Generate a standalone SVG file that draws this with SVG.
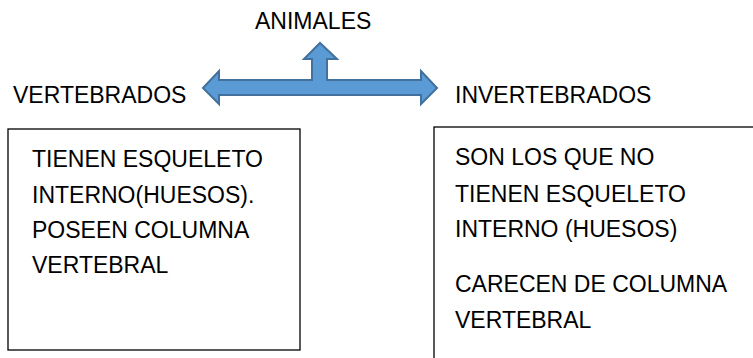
<svg xmlns="http://www.w3.org/2000/svg" width="753" height="358" viewBox="0 0 753 358">
<style>
text{font-family:"Liberation Sans",Arial,sans-serif;font-size:23px;fill:#000}
.box{fill:#fff;stroke:#000;stroke-width:1.3}
.arrow{fill:#5B9BD5;stroke:#41719C;stroke-width:2;stroke-linejoin:miter}
</style>
<rect width="753" height="358" fill="#fff"/>
<g id="animales"><text x="255" y="29">ANIMALES</text></g>
<g id="connectors">
<path class="arrow" d="M203,88 L219,71 L219,80 L312,80 L312,59 L304,59 L320,43 L337,59 L327,59 L327,80 L421,80 L421,71 L437,88 L421,104 L421,95 L219,95 L219,104 Z"/>
</g>
<g id="vertebrados"><text x="13" y="103">VERTEBRADOS</text></g>
<g id="invertebrados"><text x="455" y="103">INVERTEBRADOS</text></g>
<g id="box-vertebrados">
<rect class="box" x="8" y="129" width="292" height="221"/>
<text x="32" y="167">TIENEN ESQUELETO</text>
<text x="32" y="203">INTERNO(HUESOS).</text>
<text x="32" y="238">POSEEN COLUMNA</text>
<text x="32" y="273">VERTEBRAL</text>
</g>
<g id="box-invertebrados">
<rect class="box" x="434" y="127" width="330" height="240"/>
<text x="455" y="165">SON LOS QUE NO</text>
<text x="455" y="202">TIENEN ESQUELETO</text>
<text x="455" y="237">INTERNO (HUESOS)</text>
<text x="455" y="292">CARECEN DE COLUMNA</text>
<text x="455" y="328">VERTEBRAL</text>
</g>
</svg>
